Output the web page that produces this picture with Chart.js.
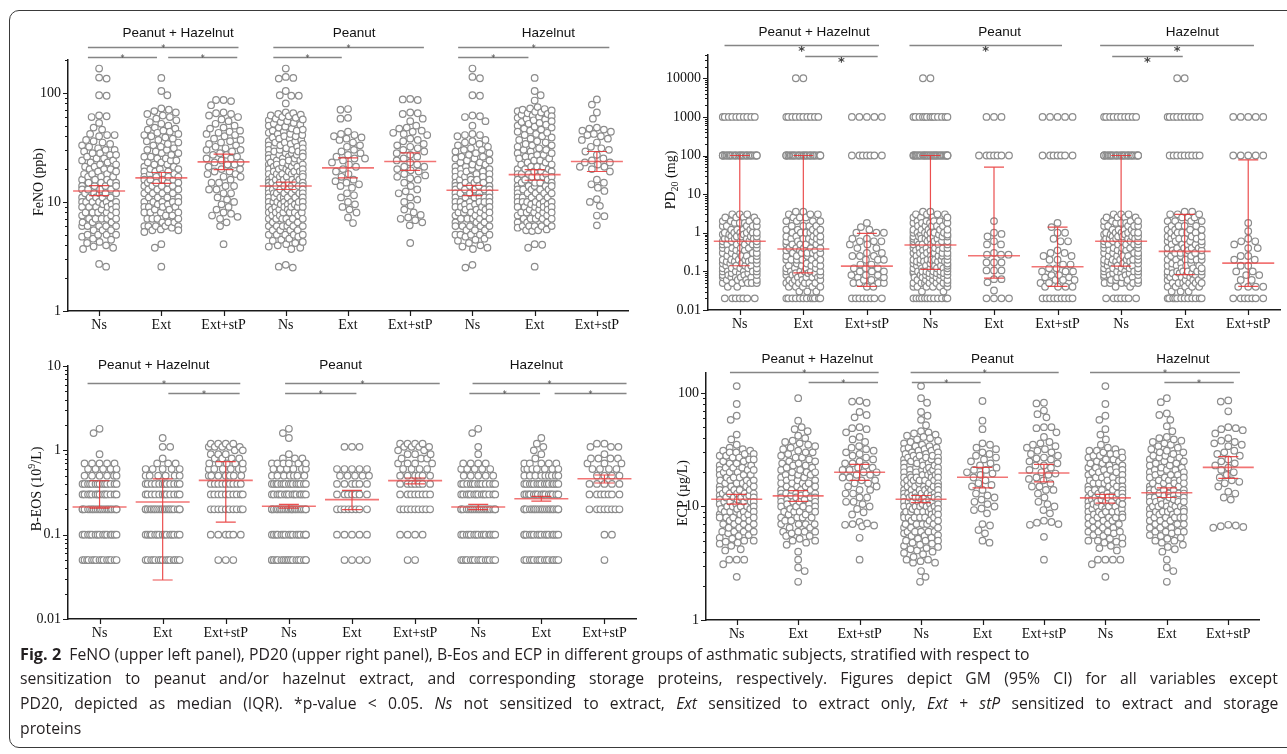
<!DOCTYPE html>
<html><head><meta charset="utf-8">
<script src="https://cdn.jsdelivr.net/npm/chart.js@4.4.0/dist/chart.umd.min.js"></script>
<style>
html,body{margin:0;padding:0;width:1287px;height:754px;overflow:hidden;background:#fff;}
#frame{position:absolute;left:9px;top:10px;width:1310px;height:738px;border:1.5px solid #3a3a3a;border-radius:10px;box-sizing:border-box;}
canvas{position:absolute;left:0;top:0;}
#cap{position:absolute;left:20px;top:641px;font-family:'Open Sans',sans-serif;font-size:16px;color:#231f20;transform-origin:0 0;}
#cap div{white-space:nowrap;height:25px;line-height:25px;}
#cap span{display:inline-block;}
#cap b{font-weight:700;font-size:16.5px;}
</style></head><body>
<div id="frame"></div>
<canvas id="cA" width="1287" height="754"></canvas>
<canvas id="cB" width="1287" height="754"></canvas>
<canvas id="cC" width="1287" height="754"></canvas>
<canvas id="cD" width="1287" height="754"></canvas>
<div id="cap">
<div><span id="l1"><b>Fig. 2</b>&nbsp; FeNO (upper left panel), PD20 (upper right panel), B-Eos and ECP in different groups of asthmatic subjects, stratified with respect to</span></div>
<div><span id="l2">sensitization to peanut and/or hazelnut extract, and corresponding storage proteins, respectively. Figures depict GM (95% CI) for all variables except</span></div>
<div><span id="l3">PD20, depicted as median (IQR). *p-value &lt; 0.05. <i>Ns</i> not sensitized to extract, <i>Ext</i> sensitized to extract only, <i>Ext</i> + <i>stP</i> sensitized to extract and storage</span></div>
<div><span id="l4">proteins</span></div>
</div>
<script>
// ---------- categories / labels ----------
const xLabels = ['Ns','Ext','Ext+stP','Ns','Ext','Ext+stP','Ns','Ext','Ext+stP'];
const groupTitles = ['Peanut + Hazelnut','Peanut','Hazelnut'];
const fenoTicks = [1,10,100];
const pdTicks = [0.01,0.1,1,10,100,1000,10000];
const eosTicks = [0.01,0.1,1,10];
const ecpTicks = [1,10,100];

// ---------- FeNO (ppb) ----------
const fenoNsPH = [167,138,135,95,94,62,61,60,53,48,46,42,41,41,40,37,36,35,34,33,32,31,30,30,29,28,28,27,27,26,25,25,24,24,23,23,22,22,21,21,20,20,20,19,19,18,18,18,17,17,17,16,16,16,15,15,15,15,14,14,14,14,13,13,13,13,12,12,12,12,12,11,11,11,11,11,10,10,10,10,10,10,9.5,9.5,9,9,9,9,9,8.5,8.5,8,8,8,8,8,7.5,7.5,7,7,7,7,7,6.5,6.5,6.5,6,6,6,6,6,5.5,5.5,5.5,5,5,5,5,4.8,4.6,4.5,4.3,4.2,4,3.9,3.8,3.7,2.7,2.55];
const fenoExtPH = [137,104,95,72,70,68,66,64,62,60,58,56,54,52,50,48,47,46,45,44,43,42,41,40,39,38,37,36,35,34,33,32,31,30,30,29,28,28,27,26,26,25,25,24,24,23,23,22,22,21,21,20,20,20,19,19,19,18,18,18,17,17,17,17,16,16,16,16,15,15,15,15,14,14,14,14,13,13,13,13,12,12,12,12,11,11,11,11,10,10,10,10,10,9.5,9.5,9,9,9,9,8.5,8.5,8,8,8,8,7.5,7.5,7,7,7,7,6.5,6.5,6.5,6,6,6,6,6,5.8,5.6,5.5,5.5,5.3,4.1,3.8,2.55];
const fenoExtStpPH = [86,86,84,77,66,65,64,62,60,57,55,52,50,48,47,45,44,43,42,41,40,38,37,36,35,34,33,32,31,30,30,29,28,27,27,26,25,25,24,23,23,22,22,21,20,20,19,19,18,18,17,17,16,15,15,14,14,13,13,12,12,11,10.5,10,9.5,9,8.5,8,7.8,7.5,7.3,7,6.5,6,4.1];
const fenoNsP = [167,140,137,135,104,95,94,94,80,66,65,64,63,62,61,60,59,58,57,56,55,54,53,52,51,50,49,48,47,46,45,45,44,43,42,42,41,40,40,39,38,38,37,36,36,35,35,34,34,33,33,32,32,31,31,30,30,30,29,29,28,28,28,27,27,27,26,26,26,25,25,25,24,24,24,23,23,23,22,22,22,22,21,21,21,21,20,20,20,20,19,19,19,19,18,18,18,18,18,17,17,17,17,17,16,16,16,16,16,15,15,15,15,15,15,14,14,14,14,14,14,13,13,13,13,13,13,12,12,12,12,12,12,12,11,11,11,11,11,11,11,10,10,10,10,10,10,10,9.5,9.5,9.5,9,9,9,9,9,9,8.5,8.5,8.5,8,8,8,8,8,8,7.5,7.5,7.5,7,7,7,7,7,7,6.5,6.5,6.5,6,6,6,6,6,6,5.5,5.5,5.5,5.5,5,5,5,5,5,4.8,4.6,4.5,4.4,4.3,4.2,4.1,4,3.9,3.8,3.7,2.65,2.55,2.5];
const fenoExtP = [71,70,59,58,44,42,41,40,39,38,37,35,33,32,30,29,28,27,26,25,25,24,23,22,21,20,19,18,17,16,15.5,15,14.5,14,13.5,12,11.5,11,10,9.5,9,8.5,8,7.2,6.4];
const fenoExtStpP = [88,87,86,66,65,64,58,55,50,48,47,45,44,43,42,41,38,37,36,34,33,32,31,30,29,28,27,26,25,24,23,22,21,21,20,19.5,19,18,17.5,17,16.5,16,15,14,13,12.5,12,11,10.5,10,9.2,8.5,8,7.6,7.2,7,6.8,6.5,6.1,4.2];
const fenoNsH = [167,140,136,95,94,62,61,60,55,50,42,41,41,40,37,36,35,34,33,32,31,30,30,29,28,28,27,26,26,25,25,24,24,23,23,22,22,21,21,21,20,20,20,19,19,19,18,18,18,17,17,17,17,16,16,16,16,15,15,15,15,14,14,14,14,14,13,13,13,13,13,12,12,12,12,12,11,11,11,11,11,11,10,10,10,10,10,10,9.5,9.5,9,9,9,9,9,8.5,8.5,8.5,8,8,8,8,8,7.5,7.5,7.5,7,7,7,7,7,6.5,6.5,6.5,6,6,6,6,6,5.5,5.5,5.5,5,5,5,5,5,4.8,4.6,4.5,4.4,4.2,4,3.9,3.8,3.7,2.65,2.5];
const fenoExtH = [137,104,95,85,74,72,71,70,69,68,67,66,65,64,63,62,61,60,59,58,57,56,55,54,53,52,51,50,49,48,47,46,45,44,43,42,41,40,39,38,37,36,35,34,33,33,32,31,30,30,29,28,28,27,27,26,26,25,25,24,24,23,23,22,22,21,21,21,20,20,20,19,19,19,18,18,18,18,17,17,17,17,16,16,16,16,15,15,15,15,14,14,14,14,14,13,13,13,13,13,12,12,12,12,12,11,11,11,11,11,10,10,10,10,10,10,9.5,9.5,9.5,9,9,9,9,9,8.5,8.5,8.5,8,8,8,8,8,7.5,7.5,7.5,7,7,7,7,7,6.5,6.5,6.5,6,6,6,6,6,5.8,5.6,5.5,5.5,5.4,4.1,4.05,3.8,2.55];
const fenoExtStpH = [87,78,66,58,48,47,46,45,44,42,41,40,38,37,35,32,31,30,29,27,25,24,23,23,22,21,21,20,19,16,15,14.5,13.5,12.6,10.6,10,9.2,7.5,7.4,6.1];
const fenoGM = [12.6,16.6,23.3,14.0,20.5,23.5,12.8,17.8,23.5];
const fenoLo = [11.4,14.8,19.8,13.0,16.6,19.5,11.4,15.8,19.0];
const fenoHi = [14.1,18.6,27.4,15.2,25.3,28.2,14.2,19.8,29.0];

// ---------- PD20 (mg): [value, count] ----------
const pdNsPH = [[0.02,7],[0.04,2],[0.05,6],[0.06,4],[0.07,5],[0.08,4],[0.09,3],[0.1,6],[0.12,5],[0.14,4],[0.16,4],[0.18,3],[0.2,6],[0.25,5],[0.3,5],[0.35,3],[0.4,5],[0.5,6],[0.6,5],[0.7,5],[0.8,5],[0.9,3],[1,6],[1.2,4],[1.5,5],[1.8,3],[2,4],[2.5,4],[3,3],[100,30],[1000,10]];
const pdExtPH = [[0.02,12],[0.03,3],[0.04,5],[0.05,6],[0.06,4],[0.07,4],[0.08,4],[0.09,3],[0.1,6],[0.12,4],[0.14,4],[0.16,3],[0.2,6],[0.25,4],[0.3,5],[0.35,3],[0.4,5],[0.5,5],[0.6,4],[0.7,4],[0.8,4],[1,5],[1.2,4],[1.5,4],[2,4],[2.5,3],[3,3],[3.5,2],[100,30],[1000,10],[10000,2]];
const pdExtStpPH = [[0.02,8],[0.04,2],[0.05,4],[0.06,2],[0.07,2],[0.08,3],[0.1,3],[0.12,3],[0.15,2],[0.2,3],[0.25,3],[0.3,2],[0.4,2],[0.5,2],[0.6,3],[0.7,2],[1,3],[1.2,1],[1.4,1],[1.8,1],[100,7],[1000,5]];
const pdNsP = [[0.02,12],[0.03,2],[0.04,6],[0.05,7],[0.06,5],[0.07,5],[0.08,5],[0.09,4],[0.1,7],[0.12,6],[0.14,5],[0.16,4],[0.18,4],[0.2,7],[0.25,6],[0.3,6],[0.35,4],[0.4,6],[0.5,6],[0.6,6],[0.7,5],[0.8,5],[0.9,4],[1,6],[1.2,5],[1.5,5],[1.8,4],[2,5],[2.5,4],[3,4],[3.5,2],[100,35],[1000,13],[10000,2]];
const pdExtP = [[0.02,4],[0.032,1],[0.052,1],[0.063,2],[0.106,3],[0.17,3],[0.27,3],[0.3,1],[0.5,2],[0.6,1],[0.8,1],[0.93,1],[1,1],[2,1],[100,7],[1000,3]];
const pdExtStpP = [[0.02,9],[0.04,4],[0.05,2],[0.06,3],[0.07,2],[0.08,2],[0.1,3],[0.12,2],[0.15,2],[0.2,2],[0.25,2],[0.3,2],[0.35,1],[0.6,2],[0.7,1],[1,2],[1.4,1],[1.8,1],[100,7],[1000,5]];
const pdNsH = [[0.02,7],[0.04,2],[0.05,6],[0.06,4],[0.07,4],[0.08,4],[0.09,3],[0.1,6],[0.12,5],[0.14,4],[0.16,4],[0.18,3],[0.2,6],[0.25,5],[0.3,5],[0.35,3],[0.4,5],[0.5,6],[0.6,5],[0.7,5],[0.8,5],[0.9,3],[1,6],[1.2,4],[1.5,5],[1.8,3],[2,4],[2.5,4],[3,3],[100,30],[1000,10]];
const pdExtH = [[0.02,12],[0.03,3],[0.04,5],[0.05,6],[0.06,4],[0.07,4],[0.08,4],[0.09,3],[0.1,6],[0.12,4],[0.14,4],[0.16,3],[0.2,6],[0.25,4],[0.3,5],[0.35,3],[0.4,5],[0.5,5],[0.6,4],[0.7,4],[0.8,4],[1,5],[1.2,4],[1.5,4],[2,4],[2.5,3],[3,3],[3.5,2],[100,9],[1000,10],[10000,2]];
const pdExtStpH = [[0.02,7],[0.04,4],[0.06,2],[0.08,2],[0.1,2],[0.14,2],[0.2,2],[0.25,2],[0.4,2],[0.5,1],[0.6,2],[0.7,1],[1.1,1],[1.8,1],[100,5],[1000,5]];
const pdMedian = [0.6,0.38,0.137,0.48,0.254,0.132,0.6,0.33,0.164];
const pdQ1 = [0.14,0.091,0.041,0.113,0.067,0.041,0.137,0.082,0.041];
const pdQ3 = [100,100,0.96,100,50,1.4,100,3.0,77];

// ---------- B-EOS (10^9/L): [value, count] ----------
const eosNsPH = [[0.05,15],[0.1,15],[0.2,20],[0.3,14],[0.4,14],[0.5,6],[0.6,5],[0.7,5],[0.9,1],[1.6,1],[1.8,1]];
const eosExtPH = [[0.05,15],[0.1,15],[0.2,20],[0.3,12],[0.4,12],[0.5,6],[0.6,5],[0.7,3],[0.8,1],[1.1,2],[1.4,1]];
const eosExtStpPH = [[0.05,3],[0.1,6],[0.2,10],[0.3,10],[0.4,9],[0.5,7],[0.6,6],[0.7,5],[0.8,4],[0.9,3],[1.0,2],[1.1,5],[1.2,4]];
const eosNsP = [[0.05,18],[0.1,16],[0.2,22],[0.3,15],[0.4,15],[0.5,7],[0.6,6],[0.7,6],[0.8,3],[0.9,1],[1.4,1],[1.6,1],[1.8,1]];
const eosExtP = [[0.05,4],[0.1,5],[0.2,8],[0.3,7],[0.4,6],[0.5,5],[0.6,5],[1.1,3]];
const eosExtStpP = [[0.05,2],[0.1,4],[0.2,9],[0.3,8],[0.4,7],[0.5,6],[0.6,4],[0.7,4],[0.8,3],[0.9,3],[1.0,2],[1.1,4],[1.2,4]];
const eosNsH = [[0.05,15],[0.1,15],[0.2,20],[0.3,14],[0.4,13],[0.5,5],[0.6,5],[0.7,4],[0.9,1],[1.1,1],[1.6,1],[1.8,1]];
const eosExtH = [[0.05,15],[0.1,16],[0.2,20],[0.3,15],[0.4,15],[0.5,9],[0.6,7],[0.7,5],[0.8,1],[0.9,1],[1.0,1],[1.1,1],[1.2,1],[1.4,1]];
const eosExtStpH = [[0.05,1],[0.1,2],[0.2,8],[0.3,7],[0.4,5],[0.5,4],[0.6,4],[0.7,3],[0.8,4],[0.9,1],[1.1,3],[1.2,2]];
const eosGM = [0.213,0.244,0.44,0.217,0.26,0.437,0.213,0.267,0.46];
const eosLo = [0.206,0.029,0.141,0.206,0.198,0.40,0.198,0.25,0.41];
const eosHi = [0.436,0.458,0.734,0.229,0.335,0.47,0.229,0.285,0.51];

// ---------- ECP (µg/L) ----------
const ecpNsPH = [115,80,63,58,43,39,35,33,32,31,31,30,30,29,29,28,28,27,27,26,26,25,25,24,24,23,23,22,22,22,21,21,21,20,20,20,19,19,19,18,18,18,17,17,17,17,16,16,16,16,15,15,15,15,14,14,14,14,14,13,13,13,13,13,12.5,12.5,12,12,12,12,12,11.5,11.5,11,11,11,11,11,10.5,10.5,10,10,10,10,10,9.5,9.5,9.5,9,9,9,9,9,8.5,8.5,8.5,8,8,8,8,8,7.5,7.5,7.5,7,7,7,7,6.5,6.5,6.5,6,6,6,6,5.8,5.6,5.5,5.3,5.2,5,5,4.9,4.8,4.7,4.5,4.2,4.1,3.4,3.4,3.4,3.1,2.4];
const ecpExtPH = [90,57,50,48,46,42,40,38,37,36,35,34,33,32,31,30,30,29,28,27,27,26,25,25,24,24,23,23,22,22,21,21,20,20,20,19,19,19,18,18,18,17,17,17,16,16,16,16,15,15,15,15,14,14,14,14,13,13,13,13,13,12.5,12.5,12,12,12,12,11.5,11.5,11,11,11,11,10.5,10.5,10,10,10,10,9.5,9.5,9,9,9,9,8.5,8.5,8,8,8,8,7.5,7.5,7,7,7,7,6.5,6.5,6,6,6,6,5.8,5.5,5.5,5.2,5,5,4.8,4.6,4,3.4,2.9,2.7,2.17];
const ecpExtStpPH = [85,84,82,68,64,61,50,49,48,45,41,39,37,34,33,32,31,30,29,28,27,26,25,24,24,23,22,22,21,21,20,20,19,19,18,18,17,17,16,16,15,15,14,14,13,13,12,12,11,11,10.5,10,9.5,8.9,8.5,7.3,7.1,7,6.9,6.8,6.7,5.3,3.4];
const ecpNsP = [115,90,82,68,63,58,52,46,45,44,43,42,41,40,39,38,37,36,35,34,34,33,33,32,32,31,31,30,30,29,29,28,28,28,27,27,27,26,26,26,25,25,25,24,24,24,23,23,23,22,22,22,22,21,21,21,21,20,20,20,20,19,19,19,19,18,18,18,18,18,17,17,17,17,17,16,16,16,16,16,15,15,15,15,15,15,14,14,14,14,14,14,13,13,13,13,13,13,12.5,12.5,12.5,12,12,12,12,12,12,11.5,11.5,11.5,11,11,11,11,11,11,10.5,10.5,10.5,10,10,10,10,10,10,9.5,9.5,9.5,9,9,9,9,9,9,8.5,8.5,8.5,8,8,8,8,8,8,7.5,7.5,7.5,7,7,7,7,7,6.5,6.5,6.5,6,6,6,6,6,5.8,5.6,5.5,5.5,5.3,5.2,5,5,5,4.8,4.7,4.6,4.5,4.4,4.3,4.2,4.1,4,3.9,3.8,3.6,3.4,3.4,3.3,3.2,3.2,2.7,2.4,2.17];
const ecpExtP = [85,57,48,36,35,33,32,30,29,28,27,26,25,24,23,22,21,21,20,19.5,19,18,17,16,15.5,15,14,13,12.5,12,11.5,11,10.5,10,9.6,9.3,8.7,7,6.8,6.2,5.8,5,4.8];
const ecpExtStpP = [82,81,70,65,61,50,50,49,45,41,37,36,35,34,33,32,31,30,29,28,27,26.5,26,25,24,23,23,22,21,20,19.5,19,18,17.5,17,16,15,15,14,14,13,12,11,10.5,10,9.3,8.7,7.5,7.3,7.2,7,6.9,5.4,3.4];
const ecpNsH = [115,80,63,58,48,43,39,35,33,32,31,31,30,30,29,29,28,28,27,27,26,26,25,25,24,24,23,23,22,22,22,21,21,21,20,20,20,19,19,19,18,18,18,17,17,17,17,16,16,16,16,15,15,15,15,14,14,14,14,14,13,13,13,13,13,12.5,12.5,12,12,12,12,12,11.5,11.5,11,11,11,11,11,10.5,10.5,10,10,10,10,10,9.5,9.5,9.5,9,9,9,9,9,8.5,8.5,8.5,8,8,8,8,8,7.5,7.5,7.5,7,7,7,7,6.5,6.5,6.5,6,6,6,6,5.8,5.6,5.5,5.3,5.2,5,5,4.9,4.8,4.7,4.5,4.3,4.1,3.4,3.4,3.4,3.4,3.1,2.4];
const ecpExtH = [90,83,66,64,58,51,46,41,40,39,38,37,36,35,34,33,32,31,30,30,29,28,28,27,27,26,26,25,25,24,24,23,23,22,22,21,21,21,20,20,20,19,19,19,18,18,18,17,17,17,17,16,16,16,16,15,15,15,15,14,14,14,14,14,13,13,13,13,13,12.5,12.5,12,12,12,12,12,11.5,11.5,11,11,11,11,11,10.5,10.5,10,10,10,10,10,9.5,9.5,9.5,9,9,9,9,9,8.5,8.5,8.5,8,8,8,8,8,7.5,7.5,7.5,7,7,7,7,6.5,6.5,6.5,6,6,6,6,5.8,5.6,5.5,5.3,5.2,5,5,4.8,4.6,4.4,4.2,4,3.4,2.9,2.7,2.17];
const ecpExtStpH = [86,84,69,50,49,48,47,44,40,38,37,36,35,34,31,30,29,28,26,25,24,23,22,21,20,19,18,17,16.5,16,15,13.5,13,12,11.5,6.9,6.8,6.7,6.6,6.5];
const ecpGM = [11.6,12.4,20.0,11.6,18.1,19.7,11.9,13.2,22.1];
const ecpLo = [10.5,11.1,17.0,10.8,14.6,16.5,10.7,12.0,17.7];
const ecpHi = [12.8,13.8,23.5,12.5,22.1,23.5,12.8,14.6,27.5];

// ---------- helpers ----------
function expand(pairs){ const out=[]; pairs.forEach(([v,c])=>{ for(let k=0;k<c;k++) out.push(v); }); return out; }

function swarm(pys, d, half){
  const n = pys.length;
  const order = pys.map((p,i)=>i).sort((a,b)=>(pys[a]-pys[b])||(a-b));
  const placed = []; const dx = new Array(n).fill(0);
  const step = 0.5; const cands=[0];
  for(let s=step; s<=half+1e-9; s+=step){ cands.push(s,-s); }
  let flip = 1;
  for(const i of order){
    const y = pys[i]; let best=0, bestCost=Infinity;
    for(const c0 of cands){
      const c = c0*flip; let ov=0;
      for(let k=placed.length-1;k>=0;k--){
        const p=placed[k]; const ddy=y-p.y; if(ddy>=d) break;
        const ddx=c-p.x; const d2=ddx*ddx+ddy*ddy;
        if(d2<d*d){ const o=d-Math.sqrt(d2); ov+=o*o; }
      }
      const cost = ov*100 + Math.abs(c)*0.01;
      if(cost<bestCost-1e-9){ bestCost=cost; best=c; }
    }
    placed.push({x:best,y}); dx[i]=best; flip=-flip;
  }
  return dx;
}

function makeDecor(P){
  return {
    id:'decor',
    afterDatasetsDraw(chart){
      const xs=chart.scales.x, ys=chart.scales.y, c=chart.ctx;
      c.save();
      P.center.forEach((m,i)=>{
        const x=xs.getPixelForValue(i);
        const ym=ys.getPixelForValue(m), yl=ys.getPixelForValue(P.lo[i]), yh=ys.getPixelForValue(P.hi[i]);
        c.strokeStyle='rgba(232,48,48,0.85)'; c.lineWidth=1.2;
        c.beginPath();
        c.moveTo(x,yh); c.lineTo(x,yl);
        c.moveTo(x-P.capHalf,yh); c.lineTo(x+P.capHalf,yh);
        c.moveTo(x-P.capHalf,yl); c.lineTo(x+P.capHalf,yl);
        c.stroke();
        c.strokeStyle='rgba(238,70,70,0.75)'; c.lineWidth=1.6;
        c.beginPath(); c.moveTo(x-P.meanHalf,ym); c.lineTo(x+P.meanHalf,ym); c.stroke();
      });
      c.restore();
    },
    afterDraw(chart){
      const xs=chart.scales.x, ys=chart.scales.y, c=chart.ctx, A=chart.chartArea;
      c.save();
      c.strokeStyle='#1a1a1a'; c.lineWidth=1.2; c.beginPath();
      P.yTicks.forEach(v=>{ const y=Math.round(ys.getPixelForValue(v))+0.5; c.moveTo(A.left-5,y); c.lineTo(A.left,y); });
      for(let e=Math.floor(Math.log10(P.min)); e<=Math.ceil(Math.log10(P.max)); e++){
        for(let k=2;k<=9;k++){ const v=k*Math.pow(10,e); if(v>P.min && v<=P.max*1.0001){ const y=Math.round(ys.getPixelForValue(v))+0.5; c.moveTo(A.left-3,y); c.lineTo(A.left,y);} }
      }
      xLabels.forEach((_,i)=>{ const x=Math.round(xs.getPixelForValue(i))+0.5; c.moveTo(x,A.bottom); c.lineTo(x,A.bottom+5); });
      c.stroke();
      c.fillStyle='#111'; c.font='13.5px "Liberation Sans"'; c.textAlign='center'; c.textBaseline='middle';
      groupTitles.forEach((t,g)=>{ c.fillText(t, xs.getPixelForValue(P.titleX[g]), A.top+P.titleDY); });
      c.strokeStyle='#858585'; c.lineWidth=1.3;
      P.brackets.forEach(([a,b,r])=>{
        const y=Math.round(A.top+P.rowDY[r])+0.5, x1=xs.getPixelForValue(a), x2=xs.getPixelForValue(b);
        c.beginPath(); c.moveTo(x1,y); c.lineTo(x2,y); c.stroke();
        const xm=(x1+x2)/2;
        c.fillStyle='#444';
        if(P.bigStar){ c.font='bold 13px "DejaVu Sans"'; c.textBaseline='alphabetic'; c.fillText('*',xm,y+9); }
        else { c.font='8px "DejaVu Sans"'; c.textBaseline='alphabetic'; c.fillText('*',xm,y+3); }
      });
      c.translate(P.yTitle.x,P.yTitle.y); c.rotate(-Math.PI/2);
      c.fillStyle='#111'; c.textBaseline='middle'; c.textAlign='left';
      let tot=0; P.yTitle.parts.forEach(([t,s])=>{ c.font=s+'px "Liberation Serif"'; tot+=c.measureText(t).width; });
      let px=-tot/2;
      P.yTitle.parts.forEach(([t,s,dy])=>{ c.font=s+'px "Liberation Serif"'; c.fillText(t,px,dy); px+=c.measureText(t).width; });
      c.restore();
    }
  };
}

function buildChart(id, P){
  const cv=document.getElementById(id);
  const pts=[];
  P.groups.forEach((vals,gi)=>vals.forEach(v=>pts.push({x:gi,y:v})));
  const chart=new Chart(cv,{
    type:'scatter',
    data:{datasets:[{data:pts,pointRadius:3.3,pointHoverRadius:3.3,borderWidth:1.2,borderColor:'#8c8c8c',backgroundColor:'#ffffff',pointStyle:'circle'}]},
    options:{
      responsive:false, animation:false, events:[],
      layout:{padding:{left:20,top:P.top,right:1287-P.right,bottom:754-P.bottom-28}},
      plugins:{legend:{display:false},tooltip:{enabled:false}},
      scales:{
        x:{type:'linear',min:-0.5,max:8.5,
           afterBuildTicks:s=>{ s.ticks=xLabels.map((_,i)=>({value:i})); },
           afterFit:s=>{ s.height=28; },
           grid:{display:false,drawTicks:true,tickLength:5},
           border:{display:true,color:'#1a1a1a',width:1.5},
           ticks:{autoSkip:false,maxRotation:0,minRotation:0,padding:1,color:'#111',font:{family:'Liberation Serif',size:14},callback:(v)=>xLabels[Math.round(v)]}},
        y:{type:'logarithmic',min:P.min,max:P.max,
           afterBuildTicks:s=>{ s.ticks=P.yTicks.map(v=>({value:v,major:true})); },
           afterFit:s=>{ s.width=P.left-20; },
           grid:{display:false,drawTicks:true,tickLength:5},
           border:{display:true,color:'#1a1a1a',width:1.5},
           ticks:{autoSkip:false,padding:2,color:'#111',font:{family:'Liberation Serif',size:14},callback:(v)=>String(v)}}
      }
    },
    plugins:[makeDecor(P)]
  });
  const xs=chart.scales.x, ys=chart.scales.y;
  const unit=xs.getPixelForValue(1)-xs.getPixelForValue(0);
  const data=[];
  P.groups.forEach((vals,gi)=>{
    const pys=vals.map(v=>ys.getPixelForValue(v));
    const dx=swarm(pys,7.2,P.half);
    const arr=vals.map((v,k)=>({x:gi+dx[k]/unit,y:v}));
    arr.sort((a,b)=>a.x-b.x);
    data.push(...arr);
  });
  chart.data.datasets[0].data=data;
  chart.update('none');
  return chart;
}

buildChart('cA',{left:68,right:628,top:60,bottom:311,min:1,max:200,yTicks:fenoTicks,
  groups:[fenoNsPH,fenoExtPH,fenoExtStpPH,fenoNsP,fenoExtP,fenoExtStpP,fenoNsH,fenoExtH,fenoExtStpH],
  center:fenoGM,lo:fenoLo,hi:fenoHi,half:17,meanHalf:26,capHalf:10,
  titleDY:-27,titleX:[1.27,4.1,7.22],rowDY:[-13,-3],
  brackets:[[-0.18,2.24,0],[-0.18,0.93,1],[1.11,2.22,1],[2.8,5.22,0],[2.8,3.9,1],[5.77,8.2,0],[5.77,6.9,1]],
  bigStar:false,yTitle:{x:39,y:182,parts:[['FeNO (ppb)',14,0]]}});

buildChart('cB',{left:708,right:1280,top:55,bottom:310,min:0.01,max:40000,yTicks:pdTicks,
  groups:[pdNsPH,pdExtPH,pdExtStpPH,pdNsP,pdExtP,pdExtStpP,pdNsH,pdExtH,pdExtStpH].map(expand),
  center:pdMedian,lo:pdQ1,hi:pdQ3,half:17,meanHalf:26,capHalf:10,
  titleDY:-23,titleX:[1.17,4.09,7.12],rowDY:[-10,1],
  brackets:[[-0.24,2.19,0],[1.03,2.17,1],[2.67,5.07,0],[5.67,8.09,0],[5.86,6.97,1]],
  bigStar:true,yTitle:{x:671,y:180,parts:[['PD',14,0],['20',10,4],[' (mg)',14,0]]}});

buildChart('cC',{left:68,right:636,top:366,bottom:619,min:0.01,max:10,yTicks:eosTicks,
  groups:[eosNsPH,eosExtPH,eosExtStpPH,eosNsP,eosExtP,eosExtStpP,eosNsH,eosExtH,eosExtStpH].map(expand),
  center:eosGM,lo:eosLo,hi:eosHi,half:17,meanHalf:27,capHalf:10,
  titleDY:-1,titleX:[0.86,3.82,6.92],rowDY:[17,27],
  brackets:[[-0.19,2.23,0],[1.09,2.22,1],[2.94,5.39,0],[2.94,4.07,1],[5.91,8.35,0],[5.86,6.98,1],[7.21,8.35,1]],
  bigStar:false,yTitle:{x:37,y:489,parts:[['B-EOS (10',14,0],['9',10,-5],['/L)',14,0]]}});

buildChart('cD',{left:706,right:1259,top:373,bottom:620,min:1,max:150,yTicks:ecpTicks,
  groups:[ecpNsPH,ecpExtPH,ecpExtStpPH,ecpNsP,ecpExtP,ecpExtStpP,ecpNsH,ecpExtH,ecpExtStpH],
  center:ecpGM,lo:ecpLo,hi:ecpHi,half:17,meanHalf:25.5,capHalf:10,
  titleDY:-14,titleX:[1.31,4.16,7.26],rowDY:[-1,9],
  brackets:[[-0.11,2.31,0],[1.17,2.30,1],[2.83,5.24,0],[2.85,3.97,1],[5.75,8.19,0],[6.96,8.09,1]],
  bigStar:false,yTitle:{x:683,y:493,parts:[['ECP (µg/L)',14,0]]}});

// caption layout: condensed face; first line ends near x=1030, lines 2-3 justified to x=1278
(function(){
  const l1=document.getElementById('l1'), l2=document.getElementById('l2'), l3=document.getElementById('l3');
  const w1=l1.offsetWidth, w2=l2.offsetWidth, w3=l3.offsetWidth;
  const s=1010/w1;
  [[l2,w2],[l3,w3]].forEach(([el,w])=>{
    const spaces=(el.textContent.match(/ /g)||[]).length;
    const extra=(1258/s - w)/spaces;
    el.style.wordSpacing=extra.toFixed(2)+'px';
  });
  document.getElementById('cap').style.transform='scaleX('+s.toFixed(4)+')';
})();
</script>
</body></html>
